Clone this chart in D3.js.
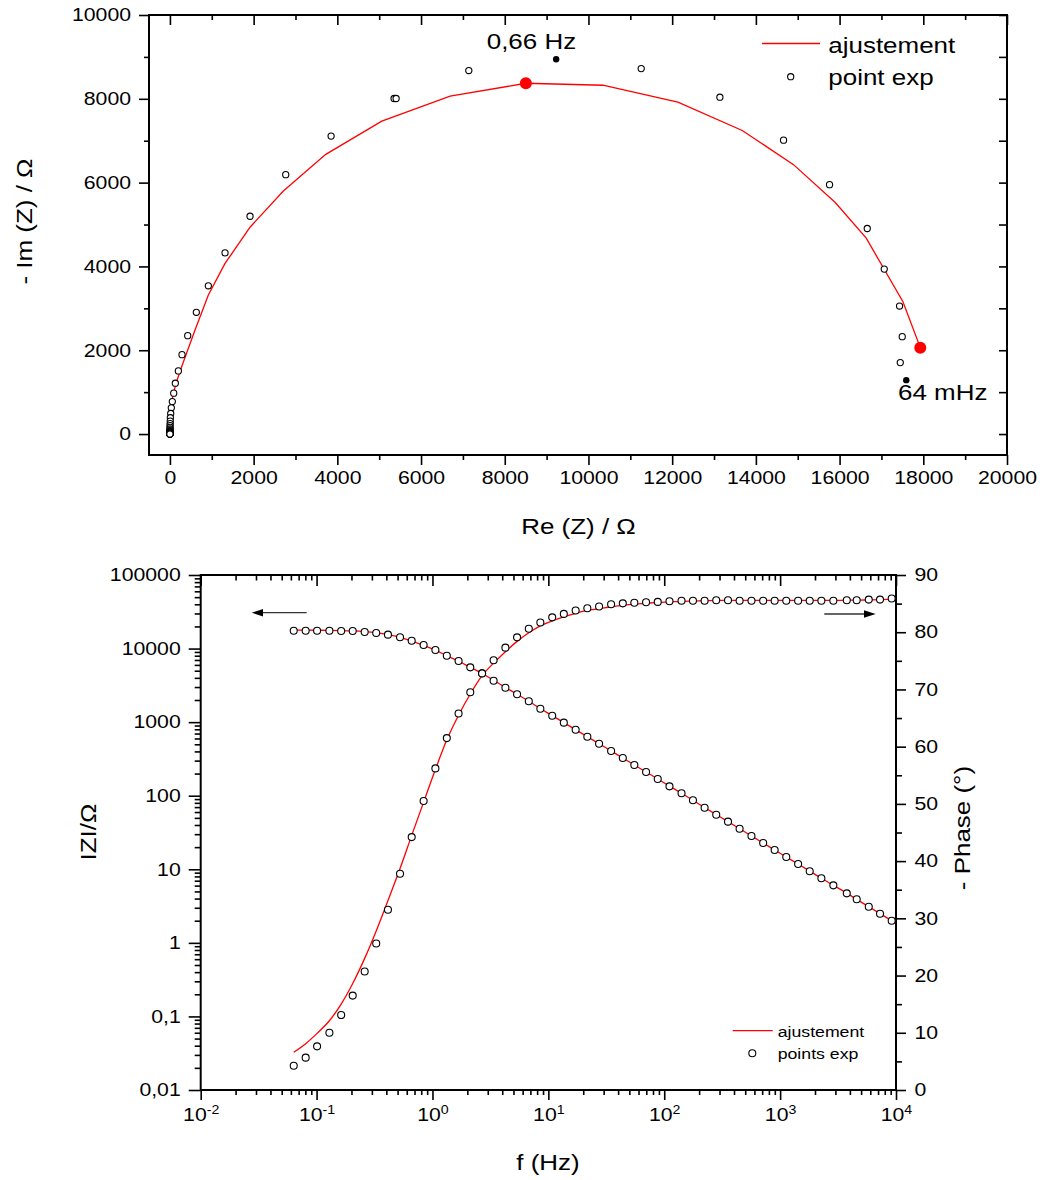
<!DOCTYPE html>
<html><head><meta charset="utf-8">
<script src="https://cdn.jsdelivr.net/npm/d3@7"></script>
<style>
html,body{margin:0;padding:0;background:#fff;}
svg{display:block;font-family:"Liberation Sans",Arial,sans-serif;}
</style></head>
<body>
<svg id="c" width="1044" height="1180"></svg>
<script>
// ---------------- DATA ----------------
// Bode: frequencies (Hz), experimental |Z| (ohm) and -phase (deg)
const freqs = [0.0635,0.0805,0.101,0.129,0.163,0.205,0.260,0.327,0.413,0.525,0.662,0.839,1.06,1.33,1.68,2.12,2.68,3.37,4.26,5.37,6.78,8.53,10.8,13.6,17.2,21.7,27.4,34.8,43.9,55.2,69.7,87.9,111,141,177,223,281,355,447,566,714,897,1130,1430,1800,2270,2880,3760,4580,5820,7280,9180];
const zExp = [17500,17500,17500,17500,17350,17350,16800,16300,15460,14230,12800,11190,9570,8000,6780,5560,4610,3660,2940,2390,1920,1520,1220,984,789,634,509,405,326,262,210,169,134,108,86.7,68.7,55.2,44.4,35.6,28.3,22.8,18.3,14.7,11.8,9.4,7.55,6.05,4.71,3.91,3.10,2.49,2.0];
const phaseExp = [4.25,5.65,7.63,10.0,13.1,16.5,20.7,25.6,31.5,37.8,44.2,50.5,56.2,61.5,65.8,69.5,72.8,75.1,77.3,79.1,80.6,81.7,82.6,83.2,83.8,84.2,84.5,84.9,85.05,85.15,85.25,85.3,85.4,85.5,85.5,85.5,85.6,85.6,85.5,85.5,85.5,85.5,85.5,85.5,85.5,85.5,85.5,85.6,85.6,85.7,85.7,85.9];
const zFit = [18000,17780,17740,17680,17560,17350,16950,16350,15450,14200,12650,11050,9500,7980,6720,5560,4600,3700,2960,2390,1920,1530,1225,985,790,634,509,406,326,262,210,169,135,108,86.7,69,55.3,44.4,35.6,28.4,22.8,18.3,14.7,11.8,9.45,7.55,6.05,4.75,3.9,3.1,2.5,2.0];
const phaseFit = [6.6,8.1,9.9,12.1,15.0,18.6,23.0,27.8,33.1,38.7,44.5,50.3,56.0,61.2,65.5,69.2,72.4,74.6,76.6,78.4,79.9,81.1,82.0,82.7,83.3,83.8,84.1,84.45,84.7,84.9,85.05,85.2,85.3,85.4,85.45,85.5,85.55,85.55,85.55,85.55,85.55,85.55,85.55,85.55,85.55,85.55,85.55,85.6,85.6,85.65,85.7,85.8];

// Nyquist: experimental points (Re, -Im) in ohm
const nyqRe = [17450,17497,17433,17067,16661,15760,14661,13140,11260,7141,5356,5404,3851,2767,1914,1317,918,631,425,289,201,129,91,57,33,19,10,8,6,4,3,2,2,1,1,1,0,0,0,0,0,0,0,0,0,0,0,0,0,0,0];
const nyqIm = [1705,2324,3055,3936,4905,5952,7014,8038,8721,8674,8007,8007,7110,6190,5198,4324,3538,2905,2348,1895,1507,1214,976,776,626,490,390,310,250,200,160,125,100,80,62,50,40,32,26,21,17,13,11,8.6,7,5.5,4.3,3.6,2.8,2.3,1.8];
// Nyquist: fitted curve vertices
const fitRe = [17928,17514,16637,15897,14899,13674,12137,10344,8504,6695,5062,3724,2710,1914,1317,918,600,282,146,50,15,5,0];
const fitIm = [2062,3157,4674,5524,6429,7245,7919,8324,8371,8062,7467,6674,5800,4936,4071,3317,2483,1610,1214,817,460,220,0];
// Highlighted frequencies
const markLabels = ["0,66 Hz","64 mHz"];
const markExpRe = [9228,17593];
const markExpIm = [8943,1286];
const markFitRe = [8504,17928];
const markFitIm = [8371,2062];

// Tick values
const nyqXMajor = d3.range(0,20001,2000), nyqXMinor = d3.range(1000,20000,2000);
const nyqYMajor = d3.range(0,10001,2000), nyqYMinor = d3.range(1000,10000,2000);
const fDecades = [-2,-1,0,1,2,3,4];
const zDecades = [-2,-1,0,1,2,3,4,5];
const phaseMajor = d3.range(0,91,10), phaseMinor = d3.range(5,90,10);

// ---------------- DRAW ----------------
const SX = 1.18; // horizontal glyph stretch of the reference font
const svg = d3.select("#c");
const FONT = "'Liberation Sans',Arial,sans-serif";

function stretchTexts(sel){
  sel.selectAll("text").each(function(){
    const t=d3.select(this);
    const x=+(t.attr("x")||0);
    t.attr("x", x/SX).attr("transform",`scale(${SX},1)`);
  });
}
function axis(gen, scale, values, size, pad, fmt, tr, fs){
  const a = gen(scale).tickValues(values).tickSize(size).tickPadding(pad)
    .tickFormat(fmt||(()=>""));
  const g = svg.append("g").attr("transform",tr||null).call(a);
  g.select(".domain").remove();
  g.selectAll(".tick line").attr("stroke","#000").attr("stroke-width",1.6);
  g.selectAll("text").attr("font-family",FONT).attr("font-size",fs||18).attr("fill","#000");
  stretchTexts(g);
  return g;
}
function label(x,y,txt,size,anchor,rot){
  svg.append("text")
    .attr("transform",`translate(${x},${y})${rot?` rotate(${rot})`:""} scale(${SX},1)`)
    .attr("text-anchor",anchor).attr("font-size",size).attr("font-family",FONT)
    .attr("fill","#000").text(txt);
}
const comma = d=> d<1 ? String(d).replace(".",",") : String(d);

// ===== Top: Nyquist =====
const xN = d3.scaleLinear().domain([-500,20000]).range([149,1007]);
const yN = d3.scaleLinear().domain([-500,10000]).range([455,15]);

axis(d3.axisBottom,xN,nyqXMajor,10,6.5,d3.format("d"),`translate(0,${yN.range()[0]})`);
axis(d3.axisBottom,xN,nyqXMinor,5,0,null,`translate(0,${yN.range()[0]})`);
axis(d3.axisTop,xN,nyqXMajor,-10,0,null,`translate(0,${yN.range()[1]})`);
axis(d3.axisTop,xN,nyqXMinor,-5,0,null,`translate(0,${yN.range()[1]})`);
axis(d3.axisLeft,yN,nyqYMajor,10,8,d3.format("d"),`translate(${xN.range()[0]},0)`);
axis(d3.axisLeft,yN,nyqYMinor,5,0,null,`translate(${xN.range()[0]},0)`);
axis(d3.axisRight,yN,nyqYMajor.concat(nyqYMinor),-8,0,null,`translate(${xN.range()[1]},0)`);

svg.append("rect").attr("x",xN.range()[0]).attr("y",yN.range()[1])
  .attr("width",xN.range()[1]-xN.range()[0]).attr("height",yN.range()[0]-yN.range()[1])
  .attr("fill","none").attr("stroke","#000").attr("stroke-width",2);

const fitPts = fitRe.map((r,i)=>[r,fitIm[i]]);
svg.append("path").datum(fitPts)
  .attr("d",d3.line().x(d=>xN(d[0])).y(d=>yN(d[1])))
  .attr("fill","none").attr("stroke","#ff0000").attr("stroke-width",1.3);

svg.append("g").selectAll("circle").data(nyqRe.map((r,i)=>[r,nyqIm[i]]))
  .join("circle").attr("cx",d=>xN(d[0])).attr("cy",d=>yN(d[1])).attr("r",3.1)
  .attr("fill","#fff").attr("stroke","#000").attr("stroke-width",1.1);

svg.append("g").selectAll("circle").data(markFitRe.map((r,i)=>[r,markFitIm[i]]))
  .join("circle").attr("cx",d=>xN(d[0])).attr("cy",d=>yN(d[1])).attr("r",6).attr("fill","#ff0000");
svg.append("g").selectAll("circle").data(markExpRe.map((r,i)=>[r,markExpIm[i]]))
  .join("circle").attr("cx",d=>xN(d[0])).attr("cy",d=>yN(d[1])).attr("r",3.2).attr("fill","#000");

label(486.7,49.3,markLabels[0],22,"start");
label(898,400,markLabels[1],22,"start");

// legend top
svg.append("line").attr("x1",762).attr("x2",820).attr("y1",43.5).attr("y2",43.5)
  .attr("stroke","#ff0000").attr("stroke-width",1.3);
label(828.3,53.3,"ajustement",22,"start");
svg.append("circle").attr("cx",790.7).attr("cy",76.7).attr("r",3.1)
  .attr("fill","#fff").attr("stroke","#000").attr("stroke-width",1.1);
label(828.3,85,"point exp",22,"start");

label(578.5,534,"Re (Z) / Ω",22,"middle");
label(31.7,221.5,"- Im (Z) / Ω",22,"middle",-90);

// ===== Bottom: Bode =====
const xB = d3.scaleLog().domain([0.01,1e4]).range([200.7,896]);
const yZ = d3.scaleLog().domain([0.01,1e5]).range([1090,575]);
const yP = d3.scaleLinear().domain([0,90]).range([1090,575]);

const fMajor = fDecades.map(k=>Math.pow(10,k));
const fMinor = [];
fDecades.slice(0,-1).forEach(k=>{for(let m=2;m<=9;m++) fMinor.push(m*Math.pow(10,k));});
const zMajor = zDecades.map(k=>Math.pow(10,k));
const zMinor = [];
zDecades.slice(0,-1).forEach(k=>{for(let m=2;m<=9;m++) zMinor.push(m*Math.pow(10,k));});

const gxb = axis(d3.axisBottom,xB,fMajor,10,8,()=>"10",`translate(0,${yZ.range()[0]})`);
gxb.selectAll(".tick text").each(function(d){
  d3.select(this).append("tspan").attr("dy","-0.55em").attr("font-size",12)
    .text(String(Math.round(Math.log10(d))));
});
axis(d3.axisBottom,xB,fMinor,5,0,null,`translate(0,${yZ.range()[0]})`);
axis(d3.axisTop,xB,fMajor,-11,0,null,`translate(0,${yZ.range()[1]})`);
axis(d3.axisTop,xB,fMinor,-5.5,0,null,`translate(0,${yZ.range()[1]})`);
axis(d3.axisLeft,yZ,zMajor,12,8,comma,`translate(${xB.range()[0]},0)`);
axis(d3.axisLeft,yZ,zMinor,6,0,null,`translate(${xB.range()[0]},0)`);
axis(d3.axisRight,yP,phaseMajor,10,8.5,d3.format("d"),`translate(${xB.range()[1]},0)`);
axis(d3.axisRight,yP,phaseMinor,6,0,null,`translate(${xB.range()[1]},0)`);

svg.append("rect").attr("x",xB.range()[0]).attr("y",yZ.range()[1])
  .attr("width",xB.range()[1]-xB.range()[0]).attr("height",yZ.range()[0]-yZ.range()[1])
  .attr("fill","none").attr("stroke","#000").attr("stroke-width",2);

const lineZ = d3.line().curve(d3.curveMonotoneX).x(d=>xB(d[0])).y(d=>yZ(d[1]));
const lineP = d3.line().curve(d3.curveMonotoneX).x(d=>xB(d[0])).y(d=>yP(d[1]));
svg.append("path").datum(freqs.map((f,i)=>[f,zFit[i]])).attr("d",lineZ)
  .attr("fill","none").attr("stroke","#ff0000").attr("stroke-width",1.3);
svg.append("path").datum(freqs.map((f,i)=>[f,phaseFit[i]])).attr("d",lineP)
  .attr("fill","none").attr("stroke","#ff0000").attr("stroke-width",1.3);

svg.append("g").selectAll("circle").data(freqs.map((f,i)=>[f,zExp[i]]))
  .join("circle").attr("cx",d=>xB(d[0])).attr("cy",d=>yZ(d[1])).attr("r",3.5)
  .attr("fill","#fff").attr("stroke","#000").attr("stroke-width",1.1);
svg.append("g").selectAll("circle").data(freqs.map((f,i)=>[f,phaseExp[i]]))
  .join("circle").attr("cx",d=>xB(d[0])).attr("cy",d=>yP(d[1])).attr("r",3.5)
  .attr("fill","#fff").attr("stroke","#000").attr("stroke-width",1.1);

// arrows
svg.append("line").attr("x1",306.7).attr("x2",260).attr("y1",612.7).attr("y2",612.7)
  .attr("stroke","#333").attr("stroke-width",1.3);
svg.append("polygon").attr("points","251.7,612.7 263,609 263,616.4").attr("fill","#000");
svg.append("line").attr("x1",824.3).attr("x2",867).attr("y1",614).attr("y2",614)
  .attr("stroke","#333").attr("stroke-width",1.3);
svg.append("polygon").attr("points","875.7,614 864,610.3 864,617.7").attr("fill","#000");

// legend bottom
svg.append("line").attr("x1",732.7).attr("x2",772.7).attr("y1",1030.7).attr("y2",1030.7)
  .attr("stroke","#ff0000").attr("stroke-width",1.3);
label(777.7,1036.5,"ajustement",15,"start");
svg.append("circle").attr("cx",752.3).attr("cy",1053.3).attr("r",3.5)
  .attr("fill","#fff").attr("stroke","#000").attr("stroke-width",1.1);
label(777.7,1058.5,"points exp",15,"start");

label(548,1170,"f (Hz)",22,"middle");
label(96,832,"IZI/Ω",22,"middle",-90);
label(970,828,"- Phase (°)",22,"middle",-90);
</script>
</body></html>
